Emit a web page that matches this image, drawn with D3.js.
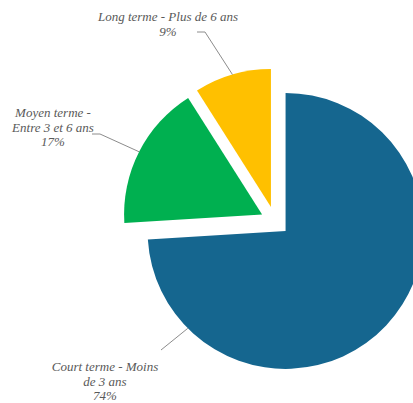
<!DOCTYPE html>
<html>
<head>
<meta charset="utf-8">
<script src="https://cdn.jsdelivr.net/npm/d3@7"></script>
<style>
  html, body { margin: 0; padding: 0; background: #ffffff; }
  svg { display: block; }
</style>
</head>
<body>
<svg id="chart" width="413" height="403"></svg>
<script>
// ---- data ----
const categories = ["Court terme - Moins de 3 ans", "Moyen terme - Entre 3 et 6 ans", "Long terme - Plus de 6 ans"];
const values = [74, 17, 9];
const labelLines = [
  ["Court terme - Moins", "de 3 ans", "74%"],
  ["Moyen terme -", "Entre 3 et 6 ans", "17%"],
  ["Long terme - Plus de 6 ans", "9%"]
];
const colors = ["#15668f", "#00b050", "#ffc000"];

// ---- layout ----
const cx = 275, cy = 221, R = 138, explode = 14.5;
const labelPos = [ {x: 105, y: 371}, {x: 53, y: 117}, {x: 168, y: 21} ];
const lineH = 14.6;
const leaders = [
  {frac: 0.845, start: [161, 350], elbow: null},
  {frac: 0.5, start: [92, 134], elbow: [100, 134]},
  {frac: 0.5, start: [197, 32], elbow: [205, 32]}
];

const svg = d3.select("#chart");
const pie = d3.pie().sort(null).value(d => d);
const arcs = pie(values);
const arc = d3.arc().innerRadius(0).outerRadius(R);

const g = svg.append("g").attr("transform", `translate(${cx},${cy})`);

function offset(a) {
  const m = (a.startAngle + a.endAngle) / 2;
  return [explode * Math.sin(m), -explode * Math.cos(m)];
}

g.selectAll("path.slice")
  .data(arcs)
  .join("path")
  .attr("class", "slice")
  .attr("d", arc)
  .attr("fill", (d, i) => colors[i])
  .attr("transform", d => { const o = offset(d); return `translate(${o[0]},${o[1]})`; });

arcs.forEach((a, i) => {
  const L = leaders[i];
  const ang = a.startAngle + (a.endAngle - a.startAngle) * L.frac;
  const o = offset(a);
  const px = cx + o[0] + R * Math.sin(ang);
  const py = cy + o[1] - R * Math.cos(ang);
  const pts = [L.start];
  if (L.elbow) pts.push(L.elbow);
  pts.push([px, py]);
  svg.append("path")
    .attr("d", d3.line()(pts))
    .attr("fill", "none")
    .attr("stroke", "#8c8c8c")
    .attr("stroke-width", 1);
});

labelLines.forEach((lines, i) => {
  const t = svg.append("text")
    .attr("x", labelPos[i].x)
    .attr("y", labelPos[i].y)
    .attr("text-anchor", "middle")
    .style("font-family", '"Liberation Serif"')
    .style("font-style", "italic")
    .style("font-size", "13px")
    .style("fill", "#595959");
  lines.forEach((s, j) => {
    t.append("tspan").attr("x", labelPos[i].x).attr("dy", j === 0 ? 0 : lineH).text(s);
  });
});
</script>
</body>
</html>
